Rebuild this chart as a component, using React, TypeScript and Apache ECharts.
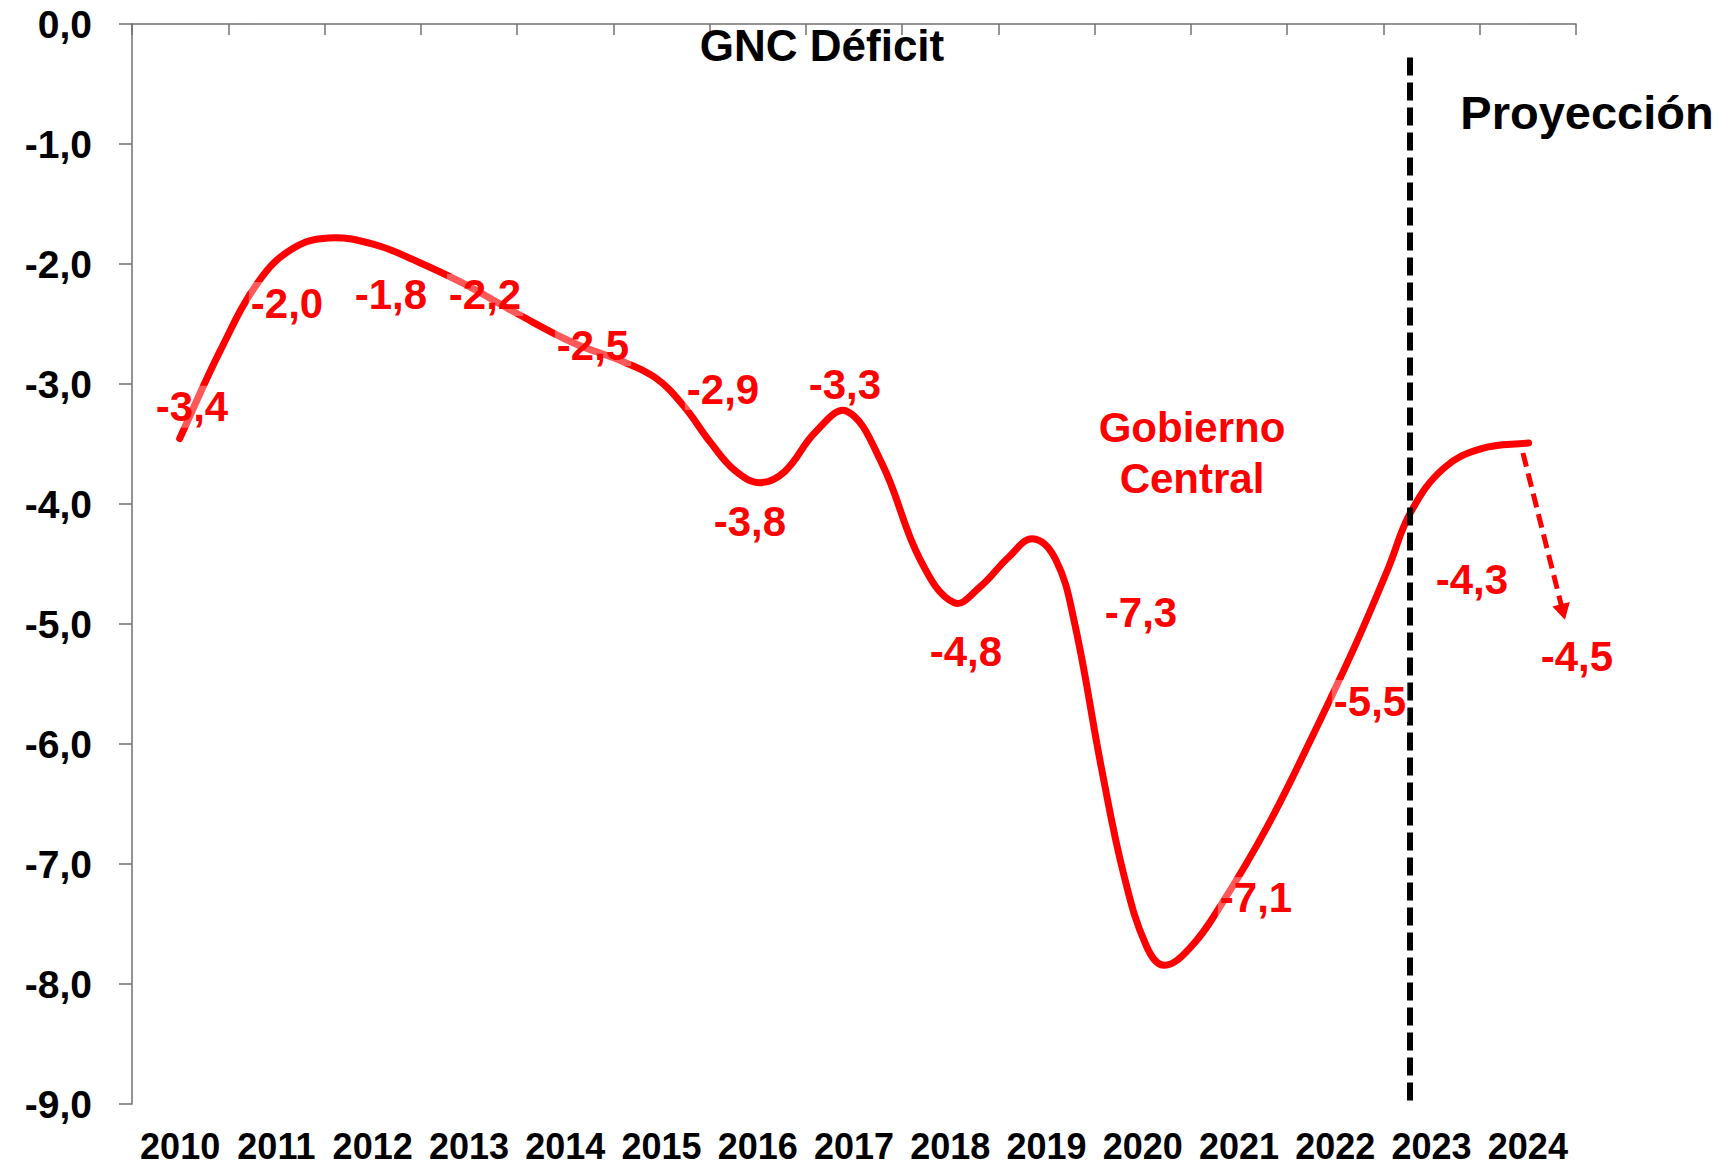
import React, { useEffect, useRef } from "react";
import * as echarts from "echarts";

// ---- data ----
const years = ["2010", "2011", "2012", "2013", "2014", "2015", "2016", "2017", "2018", "2019", "2020", "2021", "2022", "2023", "2024"];

// smoothed curve, x in category units (category i centre = i + 0.5)
const curveX = [0.495, 0.918, 1.319, 1.662, 2.04, 2.521, 2.979, 3.437, 4.009, 4.582, 5.097, 5.441, 5.727, 6.013, 6.276, 6.528, 6.78, 7.1, 7.42, 7.787, 8.188, 8.543, 8.817, 9.103, 9.355, 9.596, 9.79, 10.077, 10.306, 10.535, 10.718, 10.993, 11.336, 11.794, 12.252, 12.71, 13.053, 13.282, 13.626, 14.026, 14.507];
const curveY = [-3.455, -2.72, -2.141, -1.875, -1.783, -1.838, -1.985, -2.16, -2.417, -2.656, -2.812, -2.95, -3.179, -3.491, -3.73, -3.822, -3.73, -3.4, -3.225, -3.657, -4.465, -4.823, -4.685, -4.446, -4.29, -4.465, -4.988, -6.228, -7.1, -7.679, -7.844, -7.697, -7.311, -6.687, -5.952, -5.172, -4.529, -4.07, -3.702, -3.537, -3.491];

// value labels
const labelTexts = ["-3,4", "-2,0", "-1,8", "-2,2", "-2,5", "-2,9", "-3,3", "-3,8", "-4,8", "-7,3", "-7,1", "-5,5", "-4,3", "-4,5"];
const labelPosX = [0.623, 1.61, 2.69, 3.667, 4.789, 6.139, 7.406, 6.419, 8.663, 10.481, 11.676, 12.86, 13.919, 15.01];
const labelPosY = [-3.19, -2.325, -2.25, -2.258, -2.675, -3.042, -3.008, -4.142, -5.225, -4.908, -7.283, -5.642, -4.625, -5.267];

// projection divider and arrow
const dividerX = 13.275;
const dividerTop = -0.28;
const dividerBottom = -9;
const arrowFrom = [14.449, -3.575];
const arrowTo = [14.865, -4.9];

const yMin = -9;
const yMax = 0;

const FONT = "'Liberation Sans', Arial, Helvetica, sans-serif";
const AXIS = "#707070";
const RED = "#ff0000";
const SMOOTH = 0.4;

// smooth cubic path through pixel points (no control-point clamping)
function smoothPath(pts: number[][], s: number): string {
  const n = pts.length;
  const cpIn: number[][] = [];
  const cpOut: number[][] = [];
  for (let i = 0; i < n; i++) {
    const p = pts[i];
    const a = pts[Math.max(0, i - 1)];
    const b = pts[Math.min(n - 1, i + 1)];
    const vx = b[0] - a[0];
    const vy = b[1] - a[1];
    const l0 = Math.hypot(p[0] - a[0], p[1] - a[1]);
    const l1 = Math.hypot(b[0] - p[0], b[1] - p[1]);
    const r = l0 + l1 > 0 ? l1 / (l0 + l1) : 0.5;
    cpIn[i] = [p[0] - vx * s * (1 - r), p[1] - vy * s * (1 - r)];
    cpOut[i] = [p[0] + vx * s * r, p[1] + vy * s * r];
  }
  let d = `M${pts[0][0]},${pts[0][1]}`;
  for (let i = 1; i < n; i++) {
    d += ` C${cpOut[i - 1][0]},${cpOut[i - 1][1]} ${cpIn[i][0]},${cpIn[i][1]} ${pts[i][0]},${pts[i][1]}`;
  }
  return d;
}

export default function App() {
  const ref = useRef<HTMLDivElement>(null);

  useEffect(() => {
    document.body.style.margin = "0";
    const chart = echarts.init(ref.current as HTMLDivElement, null, { renderer: "svg" });

    const axisLineStyle = { color: AXIS, width: 1.5 };

    const option: any = {
      animation: false,
      backgroundColor: "#ffffff",
      textStyle: { fontFamily: FONT },
      grid: { left: 132, top: 24, width: 1444, height: 1080, containLabel: false, outerBoundsMode: "none" },
      xAxis: [
        {
          type: "category",
          data: years,
          position: "bottom",
          boundaryGap: true,
          axisLine: { show: false, onZero: false },
          axisTick: { show: false },
          splitLine: { show: false },
          axisLabel: { interval: 0, fontSize: 36, fontWeight: "bold", color: "#000", fontFamily: FONT, margin: 24 },
        },
        {
          type: "category",
          data: years,
          position: "top",
          boundaryGap: true,
          axisLine: { show: true, onZero: false, lineStyle: axisLineStyle },
          axisTick: { show: true, inside: true, length: 11, interval: 0, lineStyle: axisLineStyle },
          axisLabel: { show: false },
          splitLine: { show: false },
        },
        { type: "value", min: 0, max: 15, show: false },
      ],
      yAxis: {
        type: "value",
        min: yMin,
        max: yMax,
        interval: 1,
        axisLine: { show: true, onZero: false, lineStyle: axisLineStyle },
        axisTick: { show: true, length: 13, lineStyle: axisLineStyle },
        splitLine: { show: false },
        axisLabel: {
          formatter: (v: number) => v.toFixed(1).replace(".", ","),
          fontSize: 39,
          fontWeight: "bold",
          color: "#000",
          fontFamily: FONT,
          margin: 40,
        },
      },
      series: [
        {
          type: "custom",
          coordinateSystem: "cartesian2d",
          xAxisIndex: 2,
          yAxisIndex: 0,
          data: curveX.map((x, i) => [x, curveY[i]]),
          renderItem: (params: any, api: any) => {
            if (params.dataIndex !== 0) return null;
            const pts = curveX.map((x, i) => api.coord([x, curveY[i]]));
            return {
              type: "path",
              shape: { pathData: smoothPath(pts, SMOOTH) },
              style: { stroke: RED, lineWidth: 7, fill: "none", lineCap: "round", lineJoin: "round" },
            };
          },
          z: 3,
        },
        {
          type: "line",
          xAxisIndex: 2,
          data: [],
          markLine: {
            silent: true,
            symbol: ["none", "none"],
            label: { show: false },
            lineStyle: { color: "#000", width: 6, type: [18, 7] },
            data: [[{ coord: [dividerX, dividerTop] }, { coord: [dividerX, dividerBottom] }]],
          },
          z: 2,
        },
        {
          type: "line",
          xAxisIndex: 2,
          data: [],
          markLine: {
            silent: true,
            symbol: ["none", "triangle"],
            symbolSize: [18, 16],
            label: { show: false },
            lineStyle: { color: RED, width: 5, type: [14, 7], opacity: 1 },
            itemStyle: { color: RED },
            data: [[{ coord: arrowFrom }, { coord: arrowTo }]],
          },
          z: 3,
        },
        {
          type: "scatter",
          xAxisIndex: 2,
          symbolSize: 1,
          clip: false,
          itemStyle: { color: "rgba(0,0,0,0)", opacity: 1 },
          data: labelTexts.map((t, i) => ({ name: t, value: [labelPosX[i], labelPosY[i]] })),
          label: {
            show: true,
            position: "inside",
            formatter: "{b}",
            color: RED,
            opacity: 1,
            fontSize: 42,
            fontWeight: "bold",
            fontFamily: FONT,
            backgroundColor: "rgba(255,255,255,0.35)",
            padding: [0, 2],
          },
          z: 5,
        },
      ],
      graphic: [
        {
          type: "text",
          x: 822,
          y: 45,
          style: { text: "GNC Déficit", fill: "#000", font: `bold 44px ${FONT}`, textAlign: "center", textVerticalAlign: "middle" },
          z: 10,
        },
        {
          type: "text",
          x: 1587,
          y: 112,
          style: { text: "Proyección", fill: "#000", font: `bold 47px ${FONT}`, textAlign: "center", textVerticalAlign: "middle" },
          z: 10,
        },
        {
          type: "text",
          x: 1192,
          y: 427,
          style: { text: "Gobierno", fill: RED, font: `bold 42px ${FONT}`, textAlign: "center", textVerticalAlign: "middle" },
          z: 10,
        },
        {
          type: "text",
          x: 1192,
          y: 478,
          style: { text: "Central", fill: RED, font: `bold 42px ${FONT}`, textAlign: "center", textVerticalAlign: "middle" },
          z: 10,
        },
      ],
    };

    chart.setOption(option);
    return () => chart.dispose();
  }, []);

  return <div ref={ref} style={{ width: 1728, height: 1166 }} />;
}
